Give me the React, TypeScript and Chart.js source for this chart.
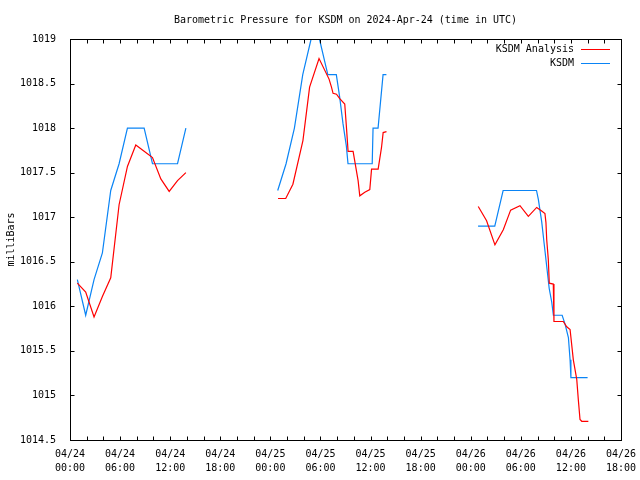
import React, { useEffect, useRef } from 'react';
import { Chart, registerables } from 'chart.js';

Chart.register(...registerables);

const TITLE = 'Barometric Pressure for KSDM on 2024-Apr-24 (time in UTC)';
const Y_LABEL = 'milliBars';
const SERIES_NAMES = ['KSDM Analysis', 'KSDM'];
const SERIES_COLORS = ['#ff0000', '#0a84f5'];

// x axis: hours since 2024-04-24 00:00 UTC
const X_MIN = 0;
const X_MAX = 66;
const X_TICK_DATES = ['04/24', '04/24', '04/24', '04/24', '04/25', '04/25', '04/25', '04/25', '04/26', '04/26', '04/26', '04/26'];
const X_TICK_TIMES = ['00:00', '06:00', '12:00', '18:00', '00:00', '06:00', '12:00', '18:00', '00:00', '06:00', '12:00', '18:00'];
const Y_MIN = 1014.5;
const Y_MAX = 1019;

// null marks a gap in the record
const analysisHours = [
  0.88, 1.88, 2.88, 3.88, 4.88, 5.88, 6.88, 7.88, 8.88, 9.88, 10.88, 11.88, 12.88, 13.88,
  19,
  24.92, 25.84, 26.7, 27.9, 28.7, 29.83, 31.03, 31.32, 31.51, 31.92, 32.31, 32.91, 33.12, 33.31, 33.91,
  34.51, 34.71, 35.31, 35.91, 36.12, 36.91, 37.31, 37.51, 37.91,
  43,
  48.9, 49.9, 50.9, 51.9, 52.78, 53.9, 54.9, 55.9, 56.5, 56.89, 57.01, 57.1, 57.29, 57.41, 57.89, 57.97,
  59.09, 59.5, 59.9, 60.29, 60.7, 60.89, 61.09, 61.3, 62.09,
];
const analysisMb = [
  1016.26, 1016.16, 1015.88, 1016.11, 1016.32, 1017.14, 1017.57, 1017.81, 1017.74, 1017.67, 1017.43, 1017.29, 1017.41, 1017.5,
  null,
  1017.21, 1017.21, 1017.37, 1017.86, 1018.46, 1018.78, 1018.55, 1018.46, 1018.39, 1018.38, 1018.33, 1018.27, 1018.0, 1017.74, 1017.74,
  1017.41, 1017.24, 1017.28, 1017.31, 1017.54, 1017.54, 1017.78, 1017.95, 1017.96,
  null,
  1017.12, 1016.96, 1016.69, 1016.86, 1017.08, 1017.13, 1017.01, 1017.11, 1017.07, 1017.04, 1016.94, 1016.75, 1016.53, 1016.26, 1016.25, 1015.83,
  1015.83, 1015.77, 1015.74, 1015.4, 1015.18, 1014.95, 1014.73, 1014.71, 1014.71,
];

const obsHours = [
  0.88, 1.88, 2.88, 3.88, 4.88, 5.88, 6.88, 7.88, 8.88, 9.88, 10.88, 11.88, 12.88, 13.88,
  19,
  24.88, 25.88, 26.88, 27.88, 28.88, 29.88, 30.88, 31.9, 32.3, 32.7, 33.1, 33.3, 33.88, 34.88, 35.88,
  36.2, 36.3, 36.9, 37.5, 37.9,
  43,
  48.88, 49.88, 50.88, 51.88, 52.88, 53.88, 54.88, 55.88, 56.1, 56.5, 56.8, 57.1, 57.4, 57.7, 57.9,
  58.95, 59.3, 59.7, 59.9, 60.0, 60.88, 62.0,
];
const obsMb = [
  1016.3, 1015.9, 1016.3, 1016.6, 1017.3, 1017.6, 1018.0, 1018.0, 1018.0, 1017.6, 1017.6, 1017.6, 1017.6, 1018.0,
  null,
  1017.3, 1017.6, 1018.0, 1018.6, 1019.0, 1019.0, 1018.6, 1018.6, 1018.35, 1018.05, 1017.8, 1017.6, 1017.6, 1017.6, 1017.6,
  1017.6, 1018.0, 1018.0, 1018.6, 1018.6,
  null,
  1016.9, 1016.9, 1016.9, 1017.3, 1017.3, 1017.3, 1017.3, 1017.3, 1017.2, 1016.95, 1016.7, 1016.45, 1016.2, 1016.05, 1015.9,
  1015.9, 1015.8, 1015.65, 1015.4, 1015.2, 1015.2, 1015.2,
];

const FONT = "'DejaVu Sans Mono', monospace";

const framePlugin = {
  id: 'gnuFrame',
  afterDraw(chart: any) {
    const { ctx, chartArea } = chart;
    const x0 = Math.round(chartArea.left) + 0.5;
    const x1 = Math.round(chartArea.right) + 0.5;
    const y0 = Math.round(chartArea.top) + 0.5;
    const y1 = Math.round(chartArea.bottom) + 0.5;
    const xs = chart.scales.x;
    const ys = chart.scales.y;
    const T = 4;
    ctx.save();
    ctx.strokeStyle = '#000';
    ctx.lineWidth = 1;
    ctx.beginPath();
    xs.ticks.forEach((t: any) => {
      const px = Math.round(xs.getPixelForValue(t.value)) + 0.5;
      ctx.moveTo(px, y1);
      ctx.lineTo(px, y1 - T);
      ctx.moveTo(px, y0);
      ctx.lineTo(px, y0 + T);
    });
    ys.ticks.forEach((t: any) => {
      const py = Math.round(ys.getPixelForValue(t.value)) + 0.5;
      ctx.moveTo(x0, py);
      ctx.lineTo(x0 + T, py);
      ctx.moveTo(x1, py);
      ctx.lineTo(x1 - T, py);
    });
    ctx.stroke();
    ctx.strokeRect(x0, y0, x1 - x0, y1 - y0);

    // title
    ctx.fillStyle = '#000';
    ctx.font = `10px ${FONT}`;
    ctx.textAlign = 'center';
    ctx.textBaseline = 'middle';
    ctx.fillText(TITLE, (chartArea.left + chartArea.right) / 2, 20);

    // legend
    ctx.textAlign = 'right';
    chart.data.datasets.forEach((ds: any, i: number) => {
      const y = 49 + i * 14;
      ctx.fillStyle = '#000';
      ctx.fillText(ds.label, 574, y);
      ctx.strokeStyle = ds.borderColor;
      ctx.beginPath();
      ctx.moveTo(581, Math.round(y) + 0.5);
      ctx.lineTo(610, Math.round(y) + 0.5);
      ctx.stroke();
    });
    ctx.restore();
  },
};

function toPoints(xs: number[], ys: (number | null)[]) {
  return xs.map((x, i) => ({ x, y: ys[i] }));
}

export default function App() {
  const ref = useRef<HTMLCanvasElement | null>(null);

  useEffect(() => {
    if (!ref.current) return;
    const chart = new Chart(ref.current, {
      type: 'line',
      data: {
        datasets: [
          {
            label: SERIES_NAMES[0],
            data: toPoints(analysisHours, analysisMb) as any,
            borderColor: SERIES_COLORS[0],
            backgroundColor: SERIES_COLORS[0],
            borderWidth: 1.2,
            pointRadius: 0,
            tension: 0,
            spanGaps: false,
          },
          {
            label: SERIES_NAMES[1],
            data: toPoints(obsHours, obsMb) as any,
            borderColor: SERIES_COLORS[1],
            backgroundColor: SERIES_COLORS[1],
            borderWidth: 1.2,
            pointRadius: 0,
            tension: 0,
            spanGaps: false,
          },
        ],
      },
      options: {
        animation: false,
        responsive: false,
        devicePixelRatio: 1,
        layout: { padding: { left: 0, right: 19, top: 39, bottom: 0 } },
        plugins: {
          legend: { display: false },
          title: { display: false },
          tooltip: { enabled: false },
        },
        scales: {
          x: {
            type: 'linear',
            min: X_MIN,
            max: X_MAX,
            grid: { display: false },
            border: { display: false },
            afterFit: (s: any) => {
              s.height = 40;
            },
            ticks: {
              stepSize: 2,
              autoSkip: false,
              maxRotation: 0,
              minRotation: 0,
              padding: -1,
              color: '#000',
              font: { family: FONT, size: 10, lineHeight: 1.4 },
              callback: (v: any) => {
                const n = Number(v);
                if (n % 6 !== 0) return '';
                const i = n / 6;
                return [X_TICK_DATES[i], X_TICK_TIMES[i]];
              },
            },
          },
          y: {
            type: 'linear',
            min: Y_MIN,
            max: Y_MAX,
            grid: { display: false },
            border: { display: false },
            afterFit: (s: any) => {
              s.width = 70;
            },
            title: {
              display: true,
              text: Y_LABEL,
              color: '#000',
              font: { family: FONT, size: 10 },
              padding: { top: 5, bottom: 0 },
            },
            ticks: {
              stepSize: 0.5,
              padding: 6,
              color: '#000',
              font: { family: FONT, size: 10 },
              callback: (v: any) => {
                const n = Number(v);
                return Number.isInteger(n) ? String(n) : n.toFixed(1);
              },
            },
          },
        },
      },
      plugins: [framePlugin],
    });
    return () => chart.destroy();
  }, []);

  return (
    <div style={{ position: 'absolute', left: 0, top: 0, width: 640, height: 480, background: '#fff' }}>
      <canvas ref={ref} width={640} height={480} />
    </div>
  );
}
